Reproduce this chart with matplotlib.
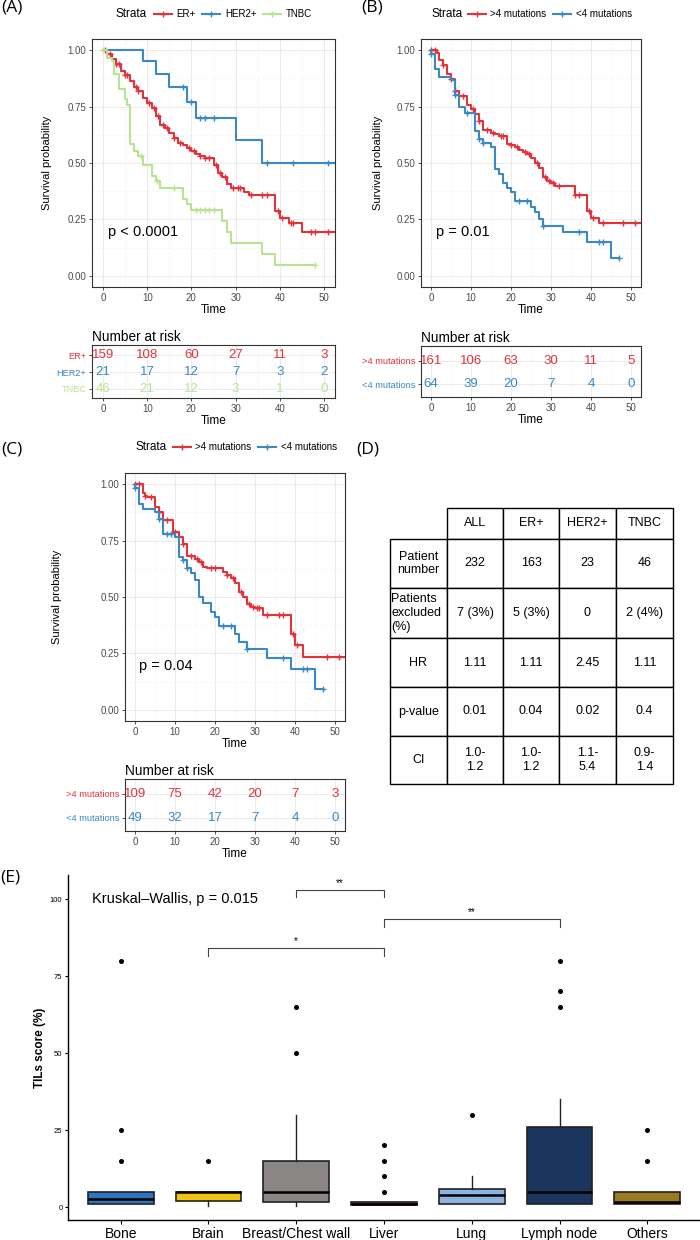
import numpy as np
import matplotlib
matplotlib.use("Agg")
import matplotlib.pyplot as plt
from matplotlib.lines import Line2D
from matplotlib.table import Table

plt.rcParams['font.family'] = ['Liberation Sans', 'DejaVu Sans']

W, H = 700, 1240
RED = '#E2323C'
BLUE = '#3C88C4'
GREEN = '#B9E393'

risk_times = [0, 10, 20, 30, 40, 50]

# ---- (A) by subtype: event times / survival after event / censor times
er_t = [1, 2, 3, 4, 5, 6, 7, 8, 9, 10, 11, 12, 13, 14, 15, 16, 17, 18, 19, 20,
        21, 22, 23, 24, 25, 26, 27, 28, 29, 32, 33, 39, 40, 42, 45]
er_s = [0.985, 0.963, 0.938, 0.91, 0.89, 0.864, 0.835, 0.82, 0.79, 0.768, 0.746,
        0.709, 0.668, 0.657, 0.635, 0.613, 0.588, 0.579, 0.566, 0.554, 0.539,
        0.532, 0.524, 0.52, 0.492, 0.455, 0.439, 0.406, 0.391, 0.372, 0.357,
        0.288, 0.258, 0.233, 0.192]
er_c = [0.5, 1.5, 3, 3.5, 5, 5.5, 7.5, 8, 10.5, 11.5, 12.5, 13.5, 14.5, 16, 17.5,
        19.5, 20.5, 22, 23, 24, 25.5, 26.5, 27.5, 29.5, 30.5, 31, 33.5, 36, 37,
        39.5, 40.5, 42.5, 43, 47, 48, 51]
er_end = 53

her_t = [9, 12, 15, 19, 21, 30, 36]
her_s = [0.952, 0.894, 0.837, 0.772, 0.70, 0.60, 0.50]
her_c = [18, 20, 22, 23, 25, 37, 43, 51]
her_end = 53

tn_t = [1, 2, 2.5, 3.5, 5, 5.5, 6, 7, 8, 9, 11, 12, 13, 18, 19, 20, 27, 28, 29, 36, 39]
tn_s = [0.967, 0.953, 0.894, 0.827, 0.786, 0.756, 0.583, 0.554, 0.532, 0.49, 0.443,
        0.421, 0.391, 0.34, 0.318, 0.29, 0.244, 0.192, 0.143, 0.096, 0.049]
tn_c = [0, 8.5, 12.3, 16, 21, 22, 23, 24, 25, 48]
tn_end = 48

er_risk = [159, 108, 60, 27, 11, 3]
her_risk = [21, 17, 12, 7, 3, 2]
tn_risk = [46, 21, 12, 3, 1, 0]

# ---- (B) all patients by mutation count
bh_t = [1.5, 2, 3, 4, 5, 6, 7, 9, 10, 11, 12, 13, 15, 16, 17, 19, 20, 21, 22, 23,
        24, 25, 26, 27, 28, 29, 30, 31, 32, 36, 39, 40, 42]
bh_s = [0.99, 0.956, 0.934, 0.894, 0.871, 0.82, 0.798, 0.756, 0.739, 0.717, 0.687,
        0.645, 0.635, 0.628, 0.62, 0.586, 0.579, 0.569, 0.558, 0.55, 0.542, 0.52,
        0.5, 0.48, 0.436, 0.42, 0.413, 0.40, 0.397, 0.357, 0.288, 0.258, 0.233]
bh_c = [0, 1, 3, 5, 6, 8, 10.5, 12, 14, 15.5, 17.5, 18, 20, 21.5, 23.5, 24.5, 26.5,
        28.5, 29.5, 30.5, 32, 36, 37, 39.5, 40.5, 43, 48, 51]
bh_end = 53

bl_t = [0, 1, 2, 5, 6, 7, 8.5, 11, 12, 13, 15, 16, 17, 18, 19, 20, 21, 25, 26, 27,
        28, 33, 39, 45]
bl_s = [0.985, 0.919, 0.883, 0.869, 0.802, 0.75, 0.72, 0.643, 0.605, 0.588, 0.569,
        0.473, 0.45, 0.413, 0.391, 0.372, 0.332, 0.303, 0.281, 0.251, 0.222, 0.195,
        0.151, 0.077]
bl_c = [0, 6, 9, 12, 13, 22, 24, 28, 37, 42, 43, 47]
bl_end = 47

bh_risk = [161, 106, 63, 30, 11, 5]
bl_risk = [64, 39, 20, 7, 4, 0]

# ---- (C) ER+ by mutation count
ch_t = [2, 2.5, 3, 5, 6, 7, 9.5, 11, 12, 13, 15, 16, 17, 18, 22, 23, 24, 25, 26,
        27, 28, 29, 30, 32, 39, 40, 42]
ch_s = [0.96, 0.95, 0.944, 0.897, 0.878, 0.84, 0.79, 0.767, 0.735, 0.68, 0.67,
        0.656, 0.634, 0.627, 0.612, 0.597, 0.583, 0.56, 0.524, 0.50, 0.47, 0.457,
        0.45, 0.42, 0.336, 0.287, 0.233]
ch_c = [0, 1, 2.5, 4, 6, 8, 10, 12, 14, 15.5, 16.5, 19, 20, 23, 24.5, 26.5, 28.5,
        29.5, 30.5, 31, 33, 36, 37, 39.5, 40.5, 48, 51]
ch_end = 53

cl_t = [0, 1, 2, 5, 6, 7, 10, 11, 12, 13, 14, 15, 16, 17, 19, 20, 21, 25, 26, 28,
        33, 39, 45]
cl_s = [0.985, 0.914, 0.892, 0.875, 0.845, 0.78, 0.767, 0.678, 0.663, 0.63, 0.605,
        0.575, 0.50, 0.472, 0.435, 0.413, 0.37, 0.336, 0.302, 0.268, 0.229, 0.181,
        0.093]
cl_c = [0, 6, 8, 9, 12, 13, 22, 24, 28, 37, 42, 43, 47]
cl_end = 47

ch_risk = [109, 75, 42, 20, 7, 3]
cl_risk = [49, 32, 17, 7, 4, 0]

# ---- (D) table
table_rows = [
    ['', 'ALL', 'ER+', 'HER2+', 'TNBC'],
    ['Patient\nnumber', '232', '163', '23', '46'],
    ['Patients\nexcluded\n(%)', '7 (3%)', '5 (3%)', '0', '2 (4%)'],
    ['HR', '1.11', '1.11', '2.45', '1.11'],
    ['p-value', '0.01', '0.04', '0.02', '0.4'],
    ['CI', '1.0-\n1.2', '1.0-\n1.2', '1.1-\n5.4', '0.9-\n1.4'],
]

# ---- (E) TILs by site
sites = ['Bone', 'Brain', 'Breast/Chest wall', 'Liver', 'Lung', 'Lymph node', 'Others']
site_colors = ['#2F74BE', '#F2C311', '#8A8685', '#8B2B20', '#8DB3E0', '#1B365E', '#9A7B22']
q1 = [1, 2, 1.5, 0.7, 1, 1, 1]
med = [2.5, 5, 5, 1, 4, 5, 1.5]
q3 = [5, 5, 15, 1.8, 6, 26, 5]
wlo = [1, 0.5, 0.5, 0.7, 1, 1, 1]
whi = [5, 5, 30, 1.8, 10, 35, 5]
fliers = [[15, 25, 80], [15], [50, 65], [5, 10, 15, 20], [30], [65, 70, 80], [15, 25]]
comp_pairs = [(1, 3), (2, 3), (3, 5)]
comp_y = [84, 103, 93.5]
comp_lab = ['*', '**', '**']

fig = plt.figure(figsize=(W / 100, H / 100), dpi=100)


def px_axes(left, top, right, bottom):
    return fig.add_axes([left / W, 1 - bottom / H, (right - left) / W, (bottom - top) / H])


def style_km(ax):
    ax.set_xlim(-2.5, 52.5)
    ax.set_ylim(-0.05, 1.05)
    ax.set_xticks(range(0, 51, 10))
    ax.set_xticks(range(5, 51, 10), minor=True)
    ax.set_yticks([0, 0.25, 0.5, 0.75, 1])
    ax.set_yticklabels(['0.00', '0.25', '0.50', '0.75', '1.00'])
    ax.set_yticks([0.125, 0.375, 0.625, 0.875], minor=True)
    ax.grid(which='major', color='#EBEBEB', lw=0.7)
    ax.grid(which='minor', color='#F5F5F5', lw=0.4)
    ax.set_axisbelow(True)
    for sp in ax.spines.values():
        sp.set_color('#333333')
        sp.set_linewidth(0.8)
    ax.tick_params(which='major', length=2.5, width=0.6, color='#333333',
                   labelsize=7, labelcolor='#4D4D4D', pad=1.5)
    ax.tick_params(which='minor', length=0)
    ax.set_xlabel('Time', fontsize=8.5, labelpad=1)
    ax.set_ylabel('Survival probability', fontsize=8)


def km(ax, t, s, end, cens, color):
    x = np.r_[0, t, end]
    y = np.r_[1, s, s[-1]]
    ax.step(x, y, where='post', color=color, lw=1.5)
    y_all = np.r_[1, s]
    cy = y_all[np.searchsorted(t, cens, side='right')]
    ax.plot(cens, cy, '+', color=color, ms=5, mew=1, ls='none')


def risk_table(ax, rows, colors, names, name_size):
    n = len(rows)
    for i, (vals, c) in enumerate(zip(rows, colors)):
        for t, v in zip(risk_times, vals):
            ax.text(t, n - i, str(v), color=c, ha='center', va='center', fontsize=9.5)
    ax.set_xlim(-2.5, 52.5)
    ax.set_ylim(0.45, n + 0.62)
    ax.set_xticks(range(0, 51, 10))
    ax.set_xticks(range(5, 51, 10), minor=True)
    ax.set_yticks(range(n, 0, -1))
    ax.set_yticklabels(names)
    ax.grid(which='major', color='#EBEBEB', lw=0.7)
    ax.grid(which='minor', axis='x', color='#F5F5F5', lw=0.4)
    ax.set_axisbelow(True)
    for sp in ax.spines.values():
        sp.set_color('#333333')
        sp.set_linewidth(0.8)
    ax.tick_params(which='major', length=2.5, width=0.6, color='#333333',
                   labelsize=7, labelcolor='#4D4D4D', pad=1.5)
    ax.tick_params(axis='y', labelsize=name_size)
    for lab, c in zip(ax.get_yticklabels(), colors):
        lab.set_color(c)
    ax.tick_params(which='minor', length=0)
    ax.set_xlabel('Time', fontsize=8.5, labelpad=1)
    ax.set_title('Number at risk', loc='left', fontsize=9.8, pad=3)


def strata_legend(x_strata, x_key, y, labels, colors):
    fig.text(x_strata / W, 1 - y / H, 'Strata', ha='right', va='center', fontsize=8.5)
    handles = [Line2D([], [], color=c, lw=1.5, marker='+', ms=5, mew=1) for c in colors]
    fig.legend(handles, labels, loc='center left', bbox_to_anchor=(x_key / W, 1 - y / H),
               ncol=len(labels), frameon=False, fontsize=7, handlelength=1.8,
               handletextpad=0.5, columnspacing=0.7, borderpad=0, borderaxespad=0)


# (A)
axa = px_axes(92, 39, 335, 287)
style_km(axa)
km(axa, er_t, er_s, er_end, er_c, RED)
km(axa, her_t, her_s, her_end, her_c, BLUE)
km(axa, tn_t, tn_s, tn_end, tn_c, GREEN)
axa.text(1.1, 0.195, 'p < 0.0001', fontsize=10.5, va='center')
axa.yaxis.set_label_coords(-0.165, 0.5)
axar = px_axes(92, 345, 335, 398)
risk_table(axar, [er_risk, her_risk, tn_risk], [RED, BLUE, GREEN], ['ER+', 'HER2+', 'TNBC'], 6.6)
strata_legend(147, 154, 14, ['ER+', 'HER2+', 'TNBC'], [RED, BLUE, GREEN])

# (B)
axb = px_axes(421, 39, 641, 287)
style_km(axb)
km(axb, bh_t, bh_s, bh_end, bh_c, RED)
km(axb, bl_t, bl_s, bl_end, bl_c, BLUE)
axb.text(1.2, 0.195, 'p = 0.01', fontsize=10.5, va='center')
axb.yaxis.set_label_coords(-0.173, 0.5)
axbr = px_axes(421, 346, 641, 397)
risk_table(axbr, [bh_risk, bl_risk], [RED, BLUE], ['>4 mutations', '<4 mutations'], 6.7)
strata_legend(463, 468, 14, ['>4 mutations', '<4 mutations'], [RED, BLUE])

# (C)
axc = px_axes(125, 473, 345, 721)
style_km(axc)
km(axc, ch_t, ch_s, ch_end, ch_c, RED)
km(axc, cl_t, cl_s, cl_end, cl_c, BLUE)
axc.text(1.1, 0.195, 'p = 0.04', fontsize=10.5, va='center')
axc.yaxis.set_label_coords(-0.286, 0.5)
axcr = px_axes(125, 779, 345, 831)
risk_table(axcr, [ch_risk, cl_risk], [RED, BLUE], ['>4 mutations', '<4 mutations'], 6.7)
strata_legend(167, 173, 447, ['>4 mutations', '<4 mutations'], [RED, BLUE])

# (D)
axd = px_axes(390, 508, 673, 784)
axd.axis('off')
col_w = [57, 56, 56, 57, 57]
row_h = [31, 49, 50, 49, 49, 48]
tab = Table(axd, bbox=[0, 0, 1, 1])
for r, row in enumerate(table_rows):
    for c, txt in enumerate(row):
        loc = 'left' if (r == 2 and c == 0) else 'center'
        cell = tab.add_cell(r, c, width=col_w[c], height=row_h[r], text=txt, loc=loc,
                            edgecolor='black', facecolor='white')
        cell.set_linewidth(1)
        if loc == 'left':
            cell.PAD = 0.02
        if r == 0 and c == 0:
            cell.visible_edges = 'open'
tab.auto_set_font_size(False)
tab.set_fontsize(9)
axd.add_table(tab)

# (E)
axe = px_axes(68, 875, 700, 1220)
stats = [dict(med=m, q1=a, q3=b, whislo=lo, whishi=hi, fliers=f)
         for m, a, b, lo, hi, f in zip(med, q1, q3, wlo, whi, fliers)]
bp = axe.bxp(stats, positions=np.arange(len(sites)), widths=0.75, patch_artist=True,
             showcaps=False, manage_ticks=False,
             boxprops=dict(edgecolor='#222222', linewidth=1.2),
             medianprops=dict(color='black', linewidth=1.8),
             whiskerprops=dict(color='#222222', linewidth=1),
             flierprops=dict(marker='o', markerfacecolor='black', markeredgecolor='black',
                             markersize=2.6))
for patch, c in zip(bp['boxes'], site_colors):
    patch.set_facecolor(c)
for (a, b), y, lab in zip(comp_pairs, comp_y, comp_lab):
    axe.plot([a, a, b, b], [y - 2.5, y, y, y - 2.5], color='#444444', lw=0.8)
    axe.text((a + b) / 2, y + 0.6, lab, ha='center', va='bottom', fontsize=7)
axe.text(-0.33, 100, 'Kruskal\u2013Wallis, p = 0.015', fontsize=10.5, va='center')
axe.set_xlim(-0.6, 6.6)
axe.set_ylim(-4.2, 107.8)
axe.set_xticks(np.arange(len(sites)))
axe.set_xticklabels(sites, fontsize=10)
axe.set_yticks([0, 25, 50, 75, 100])
axe.tick_params(axis='y', labelsize=5.5, length=2.5, width=0.8, pad=1.5)
axe.tick_params(axis='x', length=3, width=0.8, pad=2)
axe.spines['top'].set_visible(False)
axe.spines['right'].set_visible(False)
axe.spines['left'].set_linewidth(1)
axe.spines['bottom'].set_linewidth(1)
axe.set_ylabel('TILs score (%)', fontsize=8.5, fontweight='bold')
axe.yaxis.set_label_coords(-0.035, 0.5)

# panel labels
for txt, x, y, fs in [('(A)', 1, 8, 12.5), ('(B)', 361, 8, 12.5), ('(C)', 1, 449, 12.5),
                      ('(D)', 356, 450, 12.5), ('(E)', 0, 877, 12.5)]:
    fig.text(x / W, 1 - y / H, txt, fontsize=fs, va='center', family='Open Sans')

fig.savefig('out.png', dpi=100)
